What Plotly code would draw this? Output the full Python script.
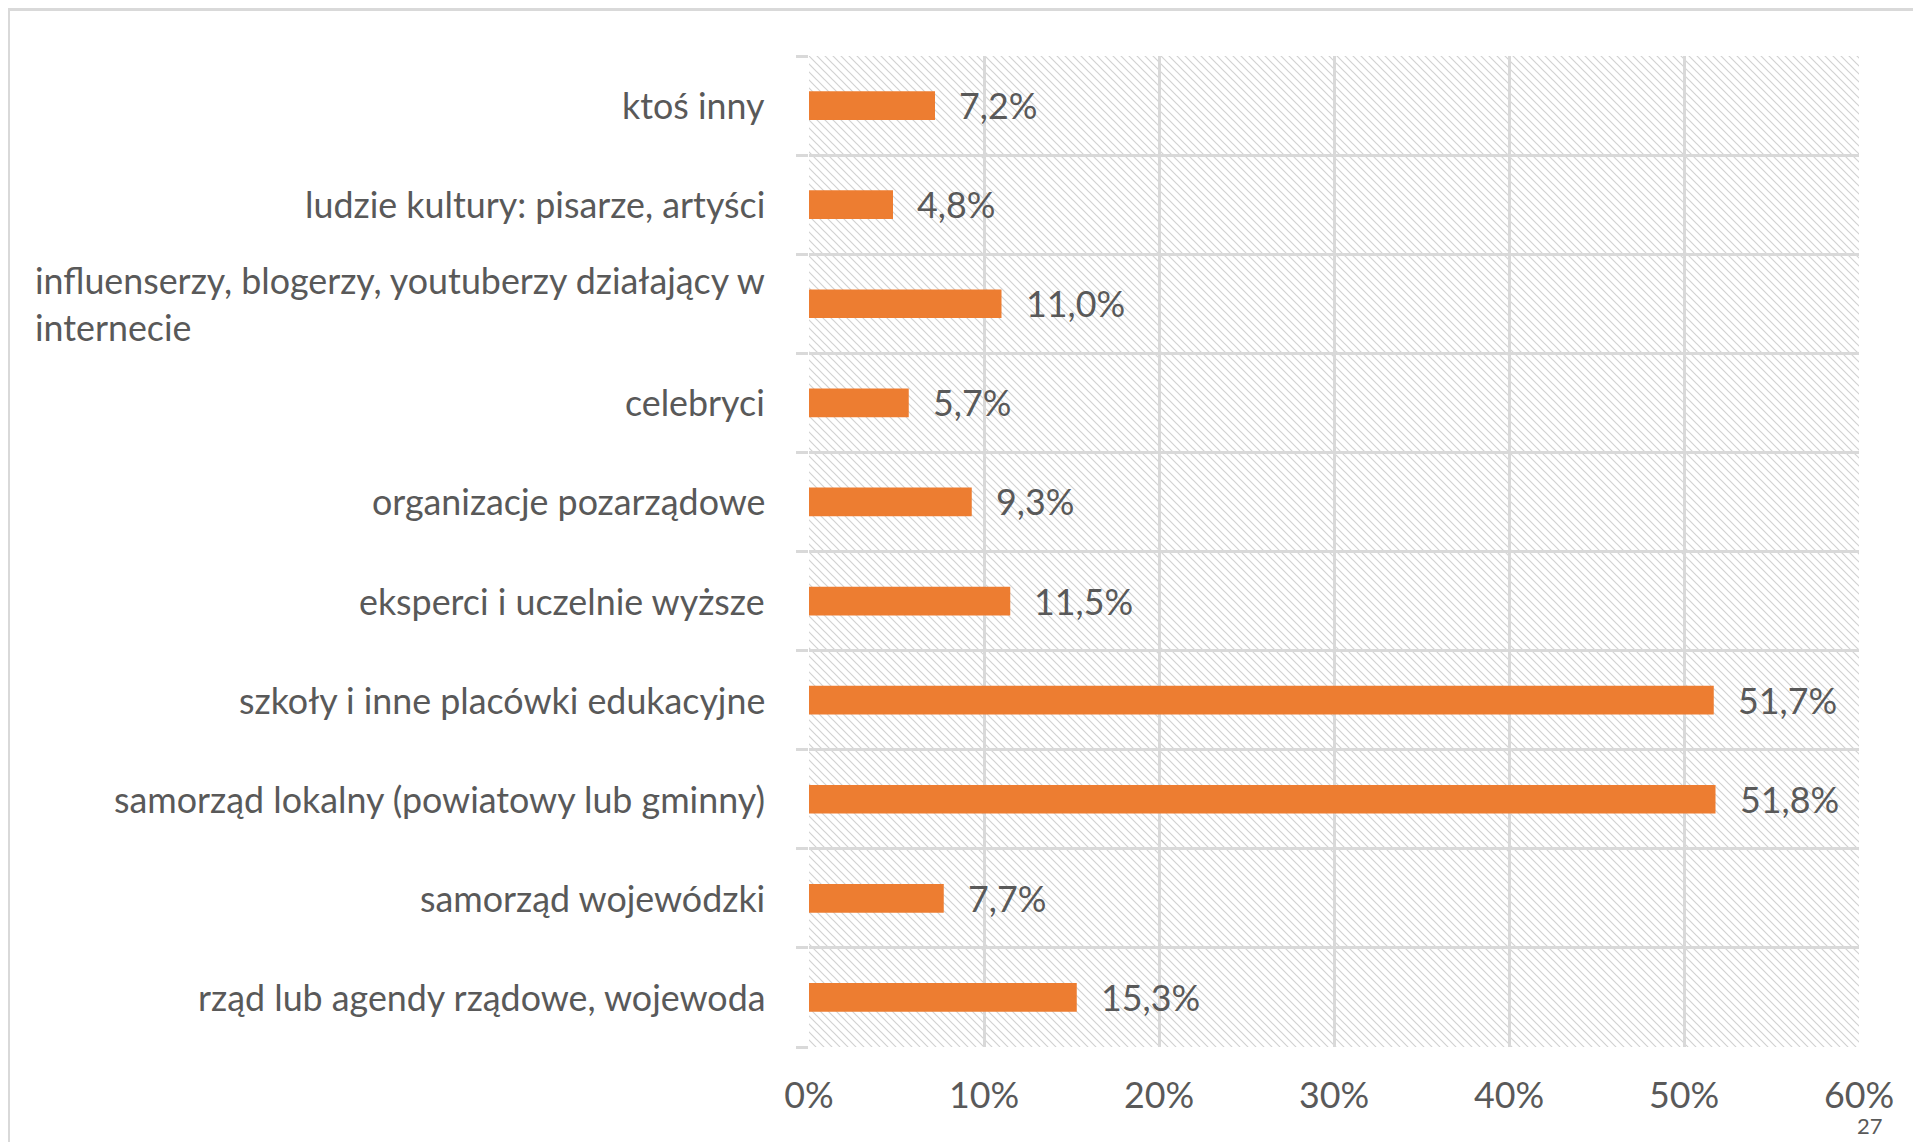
import base64
import plotly.graph_objects as go

# ---- data ----
categories = [
    "rząd lub agendy rządowe, wojewoda",
    "samorząd wojewódzki",
    "samorząd lokalny (powiatowy lub gminny)",
    "szkoły i inne placówki edukacyjne",
    "eksperci i uczelnie wyższe",
    "organizacje pozarządowe",
    "celebryci",
    "influenserzy, blogerzy, youtuberzy działający w<br>internecie",
    "ludzie kultury: pisarze, artyści",
    "ktoś inny",
]
values = [15.3, 7.7, 51.8, 51.7, 11.5, 9.3, 5.7, 11.0, 4.8, 7.2]
x_ticks = [0, 10, 20, 30, 40, 50, 60]
x_tick_labels = ["0%", "10%", "20%", "30%", "40%", "50%", "60%"]
page_number = "27"

# ---- layout geometry (pixels, page coordinates; page body has 8px margin) ----
OFF = 8
W, H = 1921 - OFF, 1142 - OFF
L, R, T, B = 809 - OFF, 1859 - OFF, 56 - OFF, 1047 - OFF
pw, ph = R - L, B - T

BAR = "#ED7D31"
TXT = "#595959"
GRID = "#D9D9D9"
FONT = "Lato"
FS = 35.8

def px_to_paper_x(px):
    return (px - OFF - L) / pw

def px_to_paper_y(py):
    return (B - (py - OFF)) / ph

# hatch pattern background
svg = f'''<svg xmlns="http://www.w3.org/2000/svg" width="{pw}" height="{ph}" viewBox="0 0 {pw} {ph}">
<defs><pattern id="h" patternUnits="userSpaceOnUse" width="8" height="8">
<path d="M-1,-1 L9,9 M-2,6 L2,10 M6,-2 L10,2" stroke="#D2D2D2" stroke-width="1.2"/>
</pattern></defs>
<rect width="{pw}" height="{ph}" fill="white"/>
<rect width="{pw}" height="{ph}" fill="url(#h)"/>
</svg>'''
src = "data:image/svg+xml;base64," + base64.b64encode(svg.encode()).decode()

yidx = list(range(len(categories)))

fig = go.Figure()
fig.add_trace(go.Bar(
    x=values, y=yidx, orientation="h", width=0.29,
    marker=dict(color=BAR, line=dict(width=0)),
    hoverinfo="skip", showlegend=False,
))

annotations = []
for i, c in enumerate(categories):
    annotations.append(dict(
        x=0, xref="paper", y=i, yref="y", text=c, showarrow=False,
        xanchor="right", yanchor="middle", align="left", xshift=-42,
        font=dict(family=FONT, size=FS, color=TXT),
    ))
for i, v in enumerate(values):
    annotations.append(dict(
        x=v, xref="x", y=i, yref="y",
        text=f"{v:.1f}%".replace(".", ","), showarrow=False,
        xanchor="left", yanchor="middle", xshift=22,
        font=dict(family=FONT, size=FS, color=TXT),
    ))
annotations.append(dict(
    x=px_to_paper_x(1870), xref="paper", y=px_to_paper_y(1125), yref="paper",
    text=page_number, showarrow=False, xanchor="center", yanchor="middle",
    font=dict(family=FONT, size=22, color=TXT),
))

shapes = [
    # outer frame (top and left)
    dict(type="line", xref="paper", yref="paper",
         x0=px_to_paper_x(8), x1=px_to_paper_x(1921 + 5),
         y0=px_to_paper_y(9.5), y1=px_to_paper_y(9.5),
         line=dict(color=GRID, width=3)),
    dict(type="line", xref="paper", yref="paper",
         x0=px_to_paper_x(8.5), x1=px_to_paper_x(8.5),
         y0=px_to_paper_y(9), y1=px_to_paper_y(1142 + 5),
         line=dict(color=GRID, width=3)),
]

fig.update_layout(
    width=W, height=H,
    margin=dict(l=L, r=W - R, t=T, b=H - B, pad=0),
    paper_bgcolor="white", plot_bgcolor="white",
    separators=", ",
    font=dict(family=FONT, size=FS, color=TXT),
    annotations=annotations, shapes=shapes,
    images=[dict(source=src, xref="paper", yref="paper", x=0, y=1,
                 sizex=1, sizey=1, xanchor="left", yanchor="top",
                 sizing="stretch", layer="below")],
)
fig.update_xaxes(
    range=[0, 60], tickmode="array", tickvals=x_ticks, ticktext=x_tick_labels,
    showgrid=True, gridcolor=GRID, gridwidth=2.5,
    zeroline=False, showline=False, ticks="",
    ticklabelstandoff=24,
    tickfont=dict(family=FONT, size=FS, color=TXT),
)
fig.update_yaxes(
    range=[-0.5, len(categories) - 0.5], tickmode="linear", tick0=-0.5, dtick=1,
    showticklabels=False, showgrid=True, gridcolor=GRID, gridwidth=2.5,
    ticks="outside", ticklen=12, tickcolor=GRID, tickwidth=2.5,
    zeroline=False, showline=False,
)

fig.write_html("out.html")
